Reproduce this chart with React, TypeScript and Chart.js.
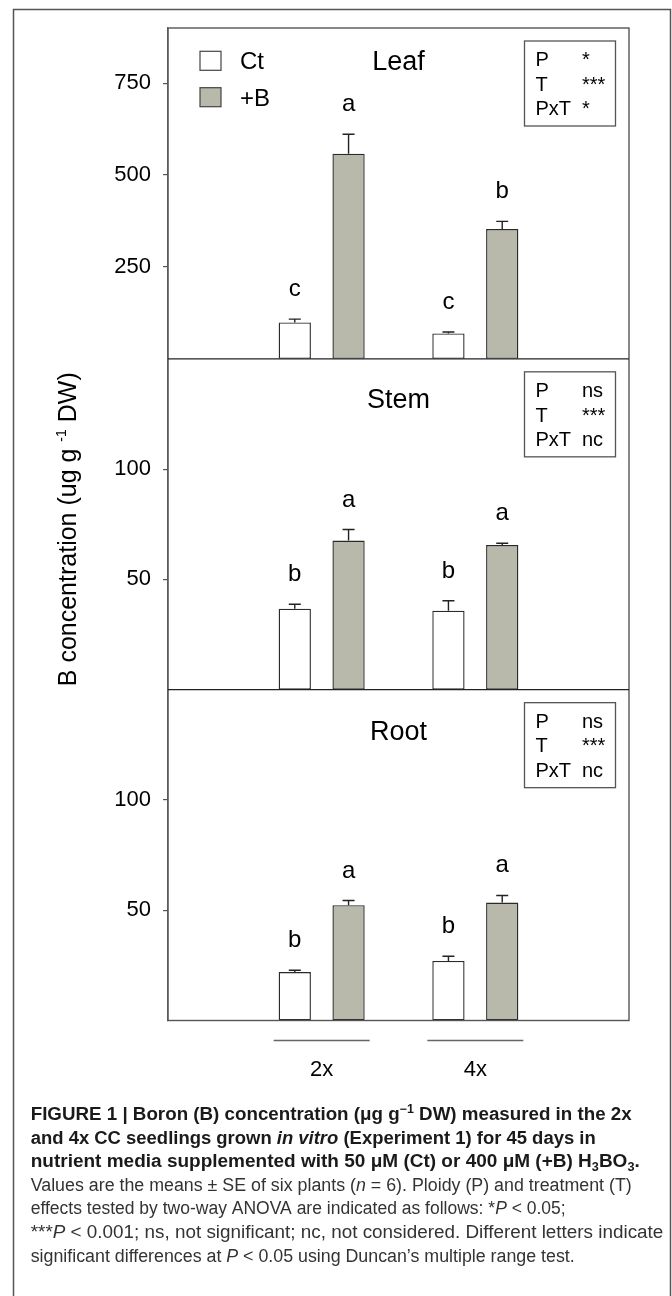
import React, { useEffect, useRef } from 'react';
import { Chart, registerables } from 'chart.js';

Chart.register(...registerables);

const FONT = "'Liberation Sans', Arial, Helvetica, sans-serif";

// ---------- data ----------
const ploidyLevels = ['2x', '4x'];
const treatments = ['Ct', '+B'];
const organs = ['Leaf', 'Stem', 'Root'];
const statLabels = ['P', 'T', 'PxT'];

// Leaf
const leafCt = [99, 69];
const leafCtSE = [9, 4];
const leafB = [558, 353];
const leafBSE = [53, 21];
const leafCtLetters = ['c', 'c'];
const leafBLetters = ['a', 'b'];
const leafTicks = [250, 500, 750];
const leafMax = 900;
const leafStats = ['*', '***', '*'];

// Stem
const stemCt = [36.7, 35.8];
const stemCtSE = [2, 4.5];
const stemB = [67.6, 65.6];
const stemBSE = [5, 0.8];
const stemCtLetters = ['b', 'b'];
const stemBLetters = ['a', 'a'];
const stemTicks = [50, 100];
const stemMax = 150;
const stemStats = ['ns', '***', 'nc'];

// Root
const rootCt = [22, 27];
const rootCtSE = [0.8, 2.1];
const rootB = [52.3, 53.5];
const rootBSE = [2.1, 3.2];
const rootCtLetters = ['b', 'b'];
const rootBLetters = ['a', 'a'];
const rootTicks = [50, 100];
const rootMax = 150;
const rootStats = ['ns', '***', 'nc'];

const ctColor = '#ffffff';
const bColor = '#b8b8ab';

type Seg = { t: string; i?: boolean; sup?: boolean; sub?: boolean };

const captionBold: Seg[][] = [
  [{ t: 'FIGURE 1 | Boron (B) concentration (\u03bcg g' }, { t: '\u22121', sup: true }, { t: ' DW) measured in the 2x' }],
  [{ t: 'and 4x CC seedlings grown ' }, { t: 'in vitro', i: true }, { t: ' (Experiment 1) for 45 days in' }],
  [{ t: 'nutrient media supplemented with 50 \u03bcM (Ct) or 400 \u03bcM (+B) H' }, { t: '3', sub: true }, { t: 'BO' }, { t: '3', sub: true }, { t: '.' }],
];
const captionRegular: Seg[][] = [
  [{ t: 'Values are the means \u00b1 SE of six plants (' }, { t: 'n', i: true }, { t: ' = 6). Ploidy (P) and treatment (T)' }],
  [{ t: 'effects tested by two-way ANOVA are indicated as follows: *' }, { t: 'P', i: true }, { t: ' < 0.05;' }],
  [{ t: '***' }, { t: 'P', i: true }, { t: ' < 0.001; ns, not significant; nc, not considered. Different letters indicate' }],
  [{ t: 'significant differences at ' }, { t: 'P', i: true }, { t: ' < 0.05 using Duncan\u2019s multiple range test.' }],
];
// layout: target line widths of the caption
const captionBoldWidths = [601, 565, 609];
const captionRegularWidths = [601, 535, 632.6, 544];

// ---------- build ----------
const pad = (a: any[]) => [null, ...a, null];
const xLabels = ['', ...ploidyLevels, ''];

const panels = [
  { id: 'yLeaf', name: organs[0], ct: leafCt, ctSE: leafCtSE, b: leafB, bSE: leafBSE, ctL: leafCtLetters, bL: leafBLetters, ticks: leafTicks, max: leafMax, stats: leafStats, weight: 3, titleOff: 41.6 },
  { id: 'yStem', name: organs[1], ct: stemCt, ctSE: stemCtSE, b: stemB, bSE: stemBSE, ctL: stemCtLetters, bL: stemBLetters, ticks: stemTicks, max: stemMax, stats: stemStats, weight: 2, titleOff: 48.7 },
  { id: 'yRoot', name: organs[2], ct: rootCt, ctSE: rootCtSE, b: rootB, bSE: rootBSE, ctL: rootCtLetters, bL: rootBLetters, ticks: rootTicks, max: rootMax, stats: rootStats, weight: 1, titleOff: 50 },
];

const datasets: any[] = panels.flatMap((p) => [
  {
    label: treatments[0], data: pad(p.ct), se: pad(p.ctSE), letters: pad(p.ctL),
    yAxisID: p.id, stack: 'ct', backgroundColor: ctColor, borderColor: '#2a2a2a', borderWidth: 1.4, borderSkipped: false,
    barPercentage: 0.6, categoryPercentage: 0.7,
  },
  {
    label: treatments[1], data: pad(p.b), se: pad(p.bSE), letters: pad(p.bL),
    yAxisID: p.id, stack: 'b', backgroundColor: bColor, borderColor: '#2a2a2a', borderWidth: 1.4, borderSkipped: false,
    barPercentage: 0.6, categoryPercentage: 0.7,
  },
]);

const scales: any = {
  x: {
    type: 'category',
    offset: false,
    grid: { display: false, drawTicks: false },
    border: { display: false },
    ticks: { autoSkip: false, maxRotation: 0, minRotation: 0, padding: 36, color: '#000', font: { family: FONT, size: 22 } },
    afterFit: (s: any) => { s.height = 80; },
  },
};
panels.forEach((p) => {
  scales[p.id] = {
    type: 'linear',
    position: 'left',
    stack: 'organs',
    stackWeight: 1,
    weight: p.weight,
    min: 0,
    max: p.max,
    stacked: false,
    offset: false,
    afterBuildTicks: (s: any) => { s.ticks = p.ticks.map((v) => ({ value: v })); },
    afterFit: (s: any) => { s.width = 80; },
    grid: { display: true, drawOnChartArea: false, drawTicks: true, tickLength: 5, color: '#555', lineWidth: 1.2 },
    border: { display: true, color: '#666', width: 1.3 },
    ticks: { padding: 12, color: '#000', font: { family: FONT, size: 22 } },
  };
});

function segFont(s: Seg, bold: boolean, size: number) {
  const sz = s.sup || s.sub ? Math.round(size * 0.68) : size;
  return `${s.i ? 'italic ' : ''}${bold ? 'bold ' : ''}${sz}px ${FONT}`;
}
function segsWidth(ctx: CanvasRenderingContext2D, segs: Seg[], bold: boolean, size: number) {
  let w = 0;
  for (const s of segs) { ctx.font = segFont(s, bold, size); w += ctx.measureText(s.t).width; }
  return w;
}
function drawSegs(ctx: CanvasRenderingContext2D, segs: Seg[], x: number, y: number, bold: boolean, size: number, sx: number, color: string) {
  ctx.save();
  ctx.translate(x, y);
  ctx.scale(sx, 1);
  ctx.fillStyle = color;
  ctx.textAlign = 'left';
  ctx.textBaseline = 'alphabetic';
  let cx = 0;
  for (const s of segs) {
    ctx.font = segFont(s, bold, size);
    const dy = s.sup ? -size * 0.4 : s.sub ? size * 0.22 : 0;
    ctx.fillText(s.t, cx, dy);
    cx += ctx.measureText(s.t).width;
  }
  ctx.restore();
}

const decor = {
  id: 'decor',
  afterDatasetsDraw(chart: any) {
    const ctx: CanvasRenderingContext2D = chart.ctx;
    const ca = chart.chartArea;
    ctx.save();
    // error bars and letters
    chart.data.datasets.forEach((ds: any, di: number) => {
      const meta = chart.getDatasetMeta(di);
      const ys = chart.scales[ds.yAxisID];
      meta.data.forEach((bar: any, i: number) => {
        const v = ds.data[i];
        if (v == null) return;
        const top = ys.getPixelForValue(v + ds.se[i]);
        ctx.strokeStyle = '#222';
        ctx.lineWidth = 1.4;
        ctx.beginPath();
        ctx.moveTo(bar.x, bar.y);
        ctx.lineTo(bar.x, top);
        ctx.moveTo(bar.x - 6, top);
        ctx.lineTo(bar.x + 6, top);
        ctx.stroke();
        ctx.fillStyle = '#000';
        ctx.font = `24px ${FONT}`;
        ctx.textAlign = 'center';
        ctx.textBaseline = 'alphabetic';
        ctx.fillText(ds.letters[i], bar.x, top - 23);
      });
    });
    // frame & dividers
    ctx.strokeStyle = '#555';
    ctx.lineWidth = 1.4;
    ctx.strokeRect(ca.left, ca.top, ca.right - ca.left, ca.bottom - ca.top);
    ctx.strokeStyle = '#222';
    [chart.scales.yStem.top, chart.scales.yRoot.top].forEach((y: number) => {
      ctx.beginPath();
      ctx.moveTo(ca.left, y);
      ctx.lineTo(ca.right, y);
      ctx.stroke();
    });
    ctx.restore();
  },
  afterDraw(chart: any) {
    const ctx: CanvasRenderingContext2D = chart.ctx;
    const ca = chart.chartArea;
    const cx = (ca.left + ca.right) / 2;
    ctx.save();
    panels.forEach((p) => {
      const s = chart.scales[p.id];
      // title
      ctx.fillStyle = '#000';
      ctx.font = `27px ${FONT}`;
      ctx.textAlign = 'center';
      ctx.textBaseline = 'alphabetic';
      ctx.fillText(p.name, cx, s.top + p.titleOff);
      // stats box
      const bw = 91, bh = 85;
      const bx = ca.right - 13.5 - bw;
      const by = s.top + 13;
      ctx.strokeStyle = '#555';
      ctx.lineWidth = 1.3;
      ctx.strokeRect(bx, by, bw, bh);
      ctx.font = `20px ${FONT}`;
      ctx.textAlign = 'left';
      statLabels.forEach((lab, r) => {
        const y = by + 18 + r * 24.5 + 7.2;
        ctx.fillText(lab, bx + 11, y);
        ctx.fillText(p.stats[r], bx + 57.5, y);
      });
    });
    // legend (in leaf panel)
    const leaf = chart.scales.yLeaf;
    [0, 1].forEach((k) => {
      const ds = chart.data.datasets[k];
      const top = leaf.top + 23.3 + k * 36.4;
      ctx.fillStyle = ds.backgroundColor;
      ctx.fillRect(200, top, 21, 19);
      ctx.strokeStyle = '#444';
      ctx.lineWidth = 1.2;
      ctx.strokeRect(200, top, 21, 19);
      ctx.fillStyle = '#000';
      ctx.font = `24px ${FONT}`;
      ctx.textAlign = 'left';
      ctx.textBaseline = 'alphabetic';
      ctx.fillText(ds.label, 240, top + 18);
    });
    // y-axis title
    const main = 'B concentration (ug g ';
    const sup = '-1';
    const tail = ' DW)';
    ctx.font = `25px ${FONT}`;
    const w1 = ctx.measureText(main).width;
    const w3 = ctx.measureText(tail).width;
    ctx.font = `14px ${FONT}`;
    const w2 = ctx.measureText(sup).width;
    const total = w1 + w2 + w3;
    const midY = (ca.top + ca.bottom) / 2 + 5;
    ctx.save();
    ctx.translate(76, midY + total / 2);
    ctx.rotate(-Math.PI / 2);
    ctx.fillStyle = '#000';
    ctx.textAlign = 'left';
    ctx.textBaseline = 'alphabetic';
    ctx.font = `25px ${FONT}`;
    ctx.fillText(main, 0, 0);
    ctx.font = `14px ${FONT}`;
    ctx.fillText(sup, w1, -10);
    ctx.font = `25px ${FONT}`;
    ctx.fillText(tail, w1 + w2, 0);
    ctx.restore();
    // group lines under x axis
    const xs = chart.scales.x;
    ctx.strokeStyle = '#666';
    ctx.lineWidth = 1.3;
    ploidyLevels.forEach((_, i) => {
      const px = xs.getPixelForTick(i + 1);
      ctx.beginPath();
      ctx.moveTo(px - 48, ca.bottom + 20);
      ctx.lineTo(px + 48, ca.bottom + 20);
      ctx.stroke();
    });
    // caption
    const size = 18;
    const firstBase = 1120;
    const lineGap = 23.6;
    captionBold.forEach((segs, i) => {
      const sx = captionBoldWidths[i] / segsWidth(ctx, segs, true, size);
      drawSegs(ctx, segs, 30.7, firstBase + i * lineGap, true, size, sx, '#1a1a1a');
    });
    captionRegular.forEach((segs, i) => {
      const sx = captionRegularWidths[i] / segsWidth(ctx, segs, false, size);
      drawSegs(ctx, segs, 30.7, firstBase + (i + 3) * lineGap, false, size, sx, '#333');
    });
    // outer border
    ctx.strokeStyle = '#555';
    ctx.lineWidth = 1.5;
    ctx.strokeRect(13.5, 9.5, 657, 1300);
    ctx.restore();
  },
};

export default function App() {
  const ref = useRef<HTMLCanvasElement>(null);
  useEffect(() => {
    document.body.style.margin = '0';
    const chart = new Chart(ref.current as HTMLCanvasElement, {
      type: 'bar',
      data: { labels: xLabels, datasets },
      options: {
        animation: false,
        responsive: false,
        devicePixelRatio: 1,
        events: [],
        layout: { padding: { left: 88, right: 43, top: 28, bottom: 195.5 } },
        plugins: { legend: { display: false }, tooltip: { enabled: false }, title: { display: false } },
        scales,
      } as any,
      plugins: [decor],
    });
    return () => chart.destroy();
  }, []);
  return (
    <div style={{ width: 672, height: 1296, background: '#fff' }}>
      <canvas ref={ref} width={672} height={1296} style={{ display: 'block' }} />
    </div>
  );
}
